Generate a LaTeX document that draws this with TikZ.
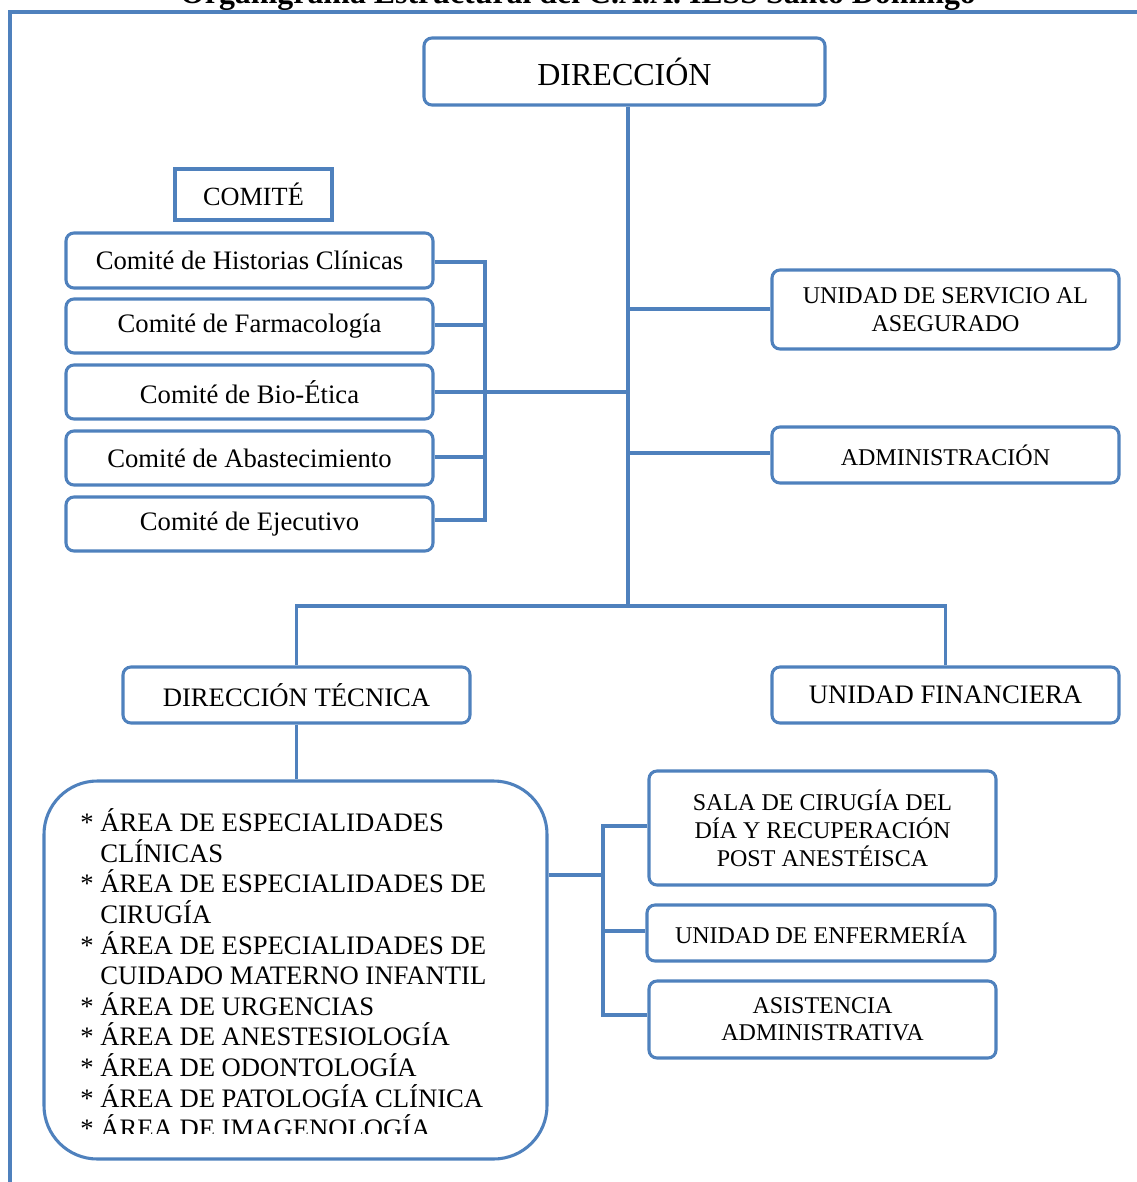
\documentclass[tikz,border=0pt]{standalone}
\usepackage{fontspec}
\setmainfont{Liberation Serif}
\definecolor{ogblue}{HTML}{4F81BD}
\newcommand\fsz[2]{\fontsize{#1pt}{#2pt}\selectfont}

\begin{document}
\begin{tikzpicture}[x=0.75pt,y=-0.75pt,
  box/.style={draw=ogblue, line width=2.3pt, rounded corners=6pt,
    inner sep=0pt, align=center},
  sqbox/.style={box, sharp corners},
  sz/.style 2 args={minimum width=#1*0.75pt, minimum height=#2*0.75pt},
  link/.style={draw=ogblue, line width=2.6pt},
  frame/.style={draw=ogblue, line width=3pt},
  bigtxt/.style={font=\fsz{24}{28}},
  midtxt/.style={font=\fsz{20}{23}},
  smalltxt/.style={font=\fsz{18}{20.5}},
  item/.style={anchor=base west, inner sep=0pt, font=\fsz{20}{23}}]
\useasboundingbox (0,0) rectangle (1137,1182);

% title, partly above the page edge
\begin{scope}
  \clip (0,0) rectangle (1137,1182);
  \node[anchor=base, inner sep=0pt, font=\bfseries\fsz{23.9}{28}] (title) at (578,3)
    {Organigrama Estructural del C.A.A. IESS Santo Domingo};
\end{scope}

% page frame
\draw[frame] (10,1182) -- (10,12) -- (1137,12);

% boxes
\node[box, bigtxt, sz={401}{67}] (dir) at (624.5,71.5) {DIRECCIÓN};
\node[sqbox, font=\fsz{19.7}{23}, sz={157}{51}] (com) at (253.5,194.5) {COMITÉ};
\node[box, midtxt, sz={367}{55}] (c1) at (249.5,260.5) {Comité de Historias Clínicas};
\node[box, midtxt, sz={367}{54}] (c2) at (249.5,326) {Comité de Farmacología};
\node[box, midtxt, sz={367}{54}] (c3) at (249.5,392) {Comité de Bio-Ética};
\node[box, midtxt, sz={367}{54}] (c4) at (249.5,458) {Comité de Abastecimiento};
\node[box, midtxt, sz={367}{54}] (c5) at (249.5,524) {Comité de Ejecutivo};
\node[box, smalltxt, sz={347}{79}] (serv) at (945.5,309.5) {UNIDAD DE SERVICIO AL\\ASEGURADO};
\node[box, smalltxt, sz={347}{56}] (adm) at (945.5,455) {ADMINISTRACIÓN};
\node[box, midtxt, sz={347}{56}] (dt) at (296.5,695) {DIRECCIÓN TÉCNICA};
\node[box, midtxt, sz={347}{56}] (uf) at (945.5,695) {UNIDAD FINANCIERA};
\node[box, rounded corners=40pt, sz={503}{378}] (areas) at (295.5,970) {};
\node[box, font=\fsz{18}{21}, sz={347}{114}] (sala) at (822.5,828)
  {SALA DE CIRUGÍA DEL\\DÍA Y RECUPERACIÓN\\POST ANESTÉISCA};
\node[box, smalltxt, sz={348}{56}] (enf) at (821,933) {UNIDAD DE ENFERMERÍA};
\node[box, smalltxt, sz={347}{77}] (asis) at (822.5,1019.5) {ASISTENCIA\\ADMINISTRATIVA};

% list of areas inside the large box, its last line cut short
\begin{scope}
  \clip (44,781) rectangle (547,1133);
  \node[item] (a1)  at (80,831.6)  {* ÁREA DE ESPECIALIDADES};
  \node[item] (a2)  at (80,862.2)  {\hphantom{* }CLÍNICAS};
  \node[item] (a3)  at (80,892.8)  {* ÁREA DE ESPECIALIDADES DE};
  \node[item] (a4)  at (80,923.4)  {\hphantom{* }CIRUGÍA};
  \node[item] (a5)  at (80,954.0)  {* ÁREA DE ESPECIALIDADES DE};
  \node[item] (a6)  at (80,984.6)  {\hphantom{* }CUIDADO MATERNO INFANTIL};
  \node[item] (a7)  at (80,1015.2) {* ÁREA DE URGENCIAS};
  \node[item] (a8)  at (80,1045.8) {* ÁREA DE ANESTESIOLOGÍA};
  \node[item] (a9)  at (80,1076.4) {* ÁREA DE ODONTOLOGÍA};
  \node[item] (a10) at (80,1107.0) {* ÁREA DE PATOLOGÍA CLÍNICA};
  \node[item] (a11) at (80,1137.6) {* ÁREA DE IMAGENOLOGÍA};
\end{scope}

% junction points
\coordinate (trunk) at (628,606);
\coordinate (bt) at (485,262);
\coordinate (bb) at (485,520);
\coordinate (bj) at (603,875);

% main trunk and its branches
\draw[link] (dir.south -| trunk) -- (trunk);
\draw[link] (serv.west |- 0,309) -- (trunk |- 0,309);
\draw[link] (adm.west |- 0,453) -- (trunk |- 0,453);
\draw[link] (dt.north) -- (dt.north |- trunk) -- (uf.north |- trunk) -- (uf.north);

% committee bracket
\draw[link] (c1.east |- bt) -- (bt) -- (bb) -- (c5.east |- bb);
\draw[link] (c2.east |- 0,325) -- (bt |- 0,325);
\draw[link] (c4.east |- 0,457) -- (bt |- 0,457);
\draw[link] (c3.east) -- (c3.east -| trunk);

% technical direction to areas
\draw[link] (dt.south) -- (dt.south |- areas.north);

% areas to support units
\draw[link] (areas.east |- bj) -- (bj);
\draw[link] (sala.west |- 0,826) -- (bj |- 0,826) -- (bj |- 0,1015) -- (asis.west |- 0,1015);
\draw[link] (enf.west |- 0,931) -- (bj |- 0,931);
\end{tikzpicture}
\end{document}
